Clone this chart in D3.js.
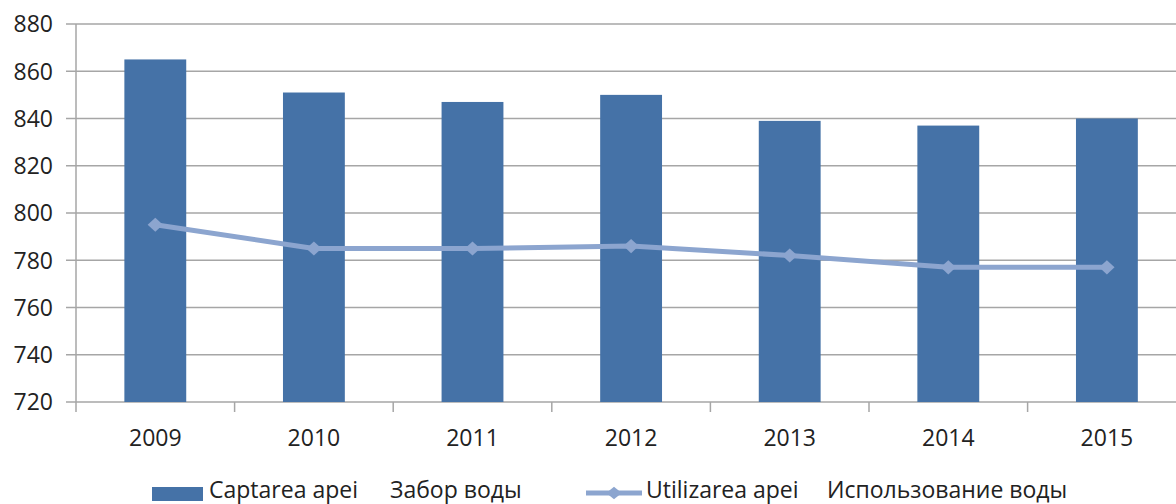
<!DOCTYPE html>
<html><head><meta charset="utf-8">
<script src="https://cdn.jsdelivr.net/npm/d3@7"></script>
<style>body{margin:0;background:#fff;overflow:hidden}svg{display:block}</style>
</head><body>
<svg id="c" width="1176" height="504"></svg>
<script>
const years = ["2009","2010","2011","2012","2013","2014","2015"];
const captarea = [865, 851, 847, 850, 839, 837, 840];
const utilizarea = [795, 785, 785, 786, 782, 777, 777];
const yTicks = [720, 740, 760, 780, 800, 820, 840, 860, 880];
const legendBar = ["Captarea apei", "Забор воды"];
const legendLine = ["Utilizarea apei", "Использование воды"];

(function () {
const svg = d3.select("#c");
const font = "'Open Sans', 'Liberation Sans', sans-serif";
const fs = 23;
const mLeft = 76, mTop = 24, mBottom = 402, band = 158.6;
const x = d3.scaleBand().domain(years).range([mLeft, mLeft + band * years.length]).paddingInner(0.61).paddingOuter(0.305);
const xc = d3.scaleBand().domain(years).range([mLeft, mLeft + band * years.length]);
const y = d3.scaleLinear().domain([720, 880]).range([mBottom, mTop]);
const grid = "#a6a6a6";

svg.append("g").selectAll("line").data(yTicks).join("line")
  .attr("x1", mLeft - 10).attr("x2", 1176)
  .attr("y1", d => y(d)).attr("y2", d => y(d))
  .attr("stroke", grid).attr("stroke-width", 1.5);

svg.append("line").attr("x1", mLeft).attr("x2", mLeft).attr("y1", mTop).attr("y2", mBottom + 10)
  .attr("stroke", grid).attr("stroke-width", 1.5);

svg.append("g").selectAll("line").data(years.slice(1)).join("line")
  .attr("x1", d => xc(d)).attr("x2", d => xc(d))
  .attr("y1", mBottom).attr("y2", mBottom + 10)
  .attr("stroke", grid).attr("stroke-width", 1.5);

svg.append("g").selectAll("text").data(yTicks).join("text")
  .attr("x", 53).attr("y", d => y(d)).attr("dy", "0.36em")
  .attr("text-anchor", "end").attr("font-family", font).attr("font-size", fs).attr("fill", "#222")
  .text(d => d);

svg.append("g").selectAll("text").data(years).join("text")
  .attr("x", d => xc(d) + xc.bandwidth() / 2).attr("y", 438).attr("dy", "0.36em")
  .attr("text-anchor", "middle").attr("font-family", font).attr("font-size", fs).attr("fill", "#222")
  .text(d => d);

svg.append("g").selectAll("rect").data(captarea).join("rect")
  .attr("x", (d, i) => x(years[i])).attr("width", x.bandwidth())
  .attr("y", d => y(d)).attr("height", d => y(720) - y(d))
  .attr("fill", "#4572a7");

const lineColor = "#8ca5cf";
const line = d3.line().x((d, i) => xc(years[i]) + xc.bandwidth() / 2).y(d => y(d));
svg.append("path").datum(utilizarea).attr("d", line)
  .attr("fill", "none").attr("stroke", lineColor).attr("stroke-width", 5).attr("stroke-linejoin", "round");
const diamond = d3.symbol().type(d3.symbolSquare).size(106);
svg.append("g").selectAll("path").data(utilizarea).join("path")
  .attr("d", diamond)
  .attr("transform", (d, i) => `translate(${xc(years[i]) + xc.bandwidth() / 2},${y(d)}) scale(1.05,0.97) rotate(45)`)
  .attr("fill", lineColor);

const ly = 494, ty = 498;
svg.append("rect").attr("x", 152).attr("y", ly - 7).attr("width", 51).attr("height", 14).attr("fill", "#4572a7");
svg.append("text").attr("x", 209).attr("y", ty).attr("font-family", font).attr("font-size", fs).attr("fill", "#222").text(legendBar[0]);
svg.append("text").attr("x", 390).attr("y", ty).attr("font-family", font).attr("font-size", fs).attr("fill", "#222").text(legendBar[1]);
svg.append("line").attr("x1", 586).attr("x2", 642).attr("y1", ly - 1).attr("y2", ly - 1).attr("stroke", lineColor).attr("stroke-width", 5);
svg.append("path").attr("d", diamond).attr("transform", `translate(614,${ly - 1}) scale(1.05,0.85) rotate(45)`).attr("fill", lineColor);
svg.append("text").attr("x", 646).attr("y", ty).attr("font-family", font).attr("font-size", fs).attr("fill", "#222").text(legendLine[0]);
svg.append("text").attr("x", 827).attr("y", ty).attr("font-family", font).attr("font-size", fs).attr("fill", "#222").text(legendLine[1]);
})();
</script>
</body></html>
